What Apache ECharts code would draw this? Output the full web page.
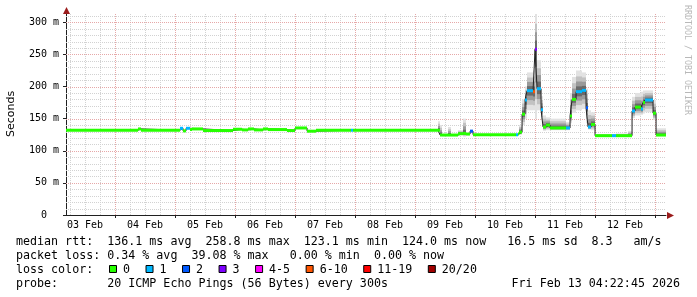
<!DOCTYPE html>
<html><head><meta charset="utf-8">
<script src="https://cdn.jsdelivr.net/npm/echarts@6/dist/echarts.min.js"></script>
<style>html,body{margin:0;padding:0;background:#fff}#c{width:697px;height:297px}</style>
</head><body><div id="c"></div>
<script>
// time in hours since 03 Feb 00:00
const startHour = 4.379;   // Feb 3 04:22:45
const endHour = 244.379;   // Feb 13 04:22:45
const xLabelHours = [12, 36, 60, 84, 108, 132, 156, 180, 204, 228];
const xLabels = ['03 Feb', '04 Feb', '05 Feb', '06 Feb', '07 Feb', '08 Feb', '09 Feb', '10 Feb', '11 Feb', '12 Feb'];
const yTickValues = [0, 50, 100, 150, 200, 250, 300];
const yTickLabels = ['0  ', '50 m', '100 m', '150 m', '200 m', '250 m', '300 m'];
const yMax = 314.5;

// median rtt segments (segment start hour, median ms, loss class, smoke low, smoke high)
const segHours = [4.379, 33.2, 34.4, 50.0, 51.2, 52.4, 54.0, 54.8, 59.2, 71.2, 74.8, 77.2, 79.6, 83.2, 85.2, 92.8, 96.0, 100.8, 104.4, 118.4, 119.2, 153.2,
  154.0, 154.8, 157.2, 158.4, 161.2, 163.2, 164.4, 166.0, 167.2, 184.4, 185.2, 185.6, 186.8, 188.0, 188.8, 191.2, 192.0, 192.8, 194.4, 195.2, 196.4, 198.0,
  204.4, 206.0, 206.8, 208.4, 210.8, 212.4, 213.2, 214.4, 216.0, 222.8, 224.4, 229.2, 230.8, 232.0, 234.4, 235.2, 236.0, 239.2, 240.4];
const medianMs = [132, 134, 132, 135, 131, 135, 133, 134, 131.5, 133.5, 132.5, 134, 132.5, 134, 133, 131.5, 135.5, 130.5, 132, 132, 132, 132,
  124.5, 124.5, 124.5, 124.5, 126.5, 127, 126, 130.5, 125, 125, 126, 129, 157, 179, 193.5, 191.7, 258, 196.6, 164, 137, 140, 135.5,
  135.5, 154, 180, 192, 194, 167, 137, 141, 123.5, 123.5, 123.5, 123.5, 162, 168, 165, 175, 179, 158.5, 124.5];
const lossIdx = [0, 0, 0, 1, 0, 1, 0, 0, 0, 0, 0, 0, 0, 0, 0, 0, 0, 0, 0, 1, 0, 0,
  0, 0, 0, 0, 0, 0, 0, 2, 0, 1, 0, 0, 0, 1, 1, 5, 3, 1, 1, 0, 0, 0,
  1, 0, 0, 1, 1, 2, 1, 0, 0, 1, 0, 0, 1, 0, 1, 0, 1, 0, 0];
const smokeLoMs = [132, 134, 132, 135, 131, 135, 133, 134, 131.5, 133.5, 132.5, 134, 132.5, 134, 133, 131.5, 135.5, 130.5, 132, 132, 132, 131,
  123.5, 123.5, 123.5, 123.5, 125, 122, 125, 127, 124, 124, 125, 125, 140, 150, 163, 163, 150, 163, 148, 131, 132, 132,
  132, 143, 159, 163, 165, 143, 133, 132, 122, 122, 122, 122, 151, 155, 156, 158, 160, 148, 123];
const smokeHiMs = [132, 134, 132, 135, 131, 135, 133, 134, 131.5, 133.5, 132.5, 134, 132.5, 134, 133, 131.5, 135.5, 130.5, 132, 132, 132, 146,
  140, 126, 137, 126, 132, 150, 128, 133, 126, 126, 127, 140, 180, 200, 222, 225, 313, 241, 185, 155, 152, 150,
  145, 190, 215, 225, 222, 197, 163, 160, 126, 126, 127, 131, 184, 190, 192, 194, 194, 179, 135];

const lossLabels = ['0', '1', '2', '3', '4-5', '6-10', '11-19', '20/20'];
const lossColors = ['#26ff00', '#00b8ff', '#0059ff', '#7e00ff', '#ff00ff', '#ff5500', '#ff0000', '#a10000'];
const rttStats = ['136.1', '258.8', '123.1', '124.0', '16.5', '8.3'];
const lossStats = ['0.34', '39.08', '0.00', '0.00'];
const probeText = '20 ICMP Echo Pings (56 Bytes) every 300s';
const dateText = 'Fri Feb 13 04:22:45 2026';

const MONO = "'DejaVu Sans Mono', monospace";
const segEnd = i => (i + 1 < segHours.length ? segHours[i + 1] : endHour);

const smokeData = segHours.map((h, i) => [h, segEnd(i), smokeLoMs[i], medianMs[i], smokeHiMs[i]]);
const barData = segHours.map((h, i) => [h, segEnd(i), medianMs[i], lossIdx[i]]);
const stepData = segHours.map((h, i) => [h, medianMs[i]]).concat([[endHour, medianMs[medianMs.length - 1]]]);

// grid line positions (styling)
const xGrid = []; for (let h = 6; h < endHour; h += 6) xGrid.push([h, 0, h % 24 === 0 ? 1 : 0]);
const yGrid = []; for (let v = 10; v < yMax; v += 10) yGrid.push([startHour, v, v % 50 === 0 ? 1 : 0]);

const MINOR = '#d2d2d2', MAJOR = '#e6a8a8';

const chart = echarts.init(document.getElementById('c'), null, {renderer: 'canvas'});

const graphics = [];
// arrows
graphics.push({type: 'polygon', shape: {points: [[66.5, 7], [63, 14], [70, 14]]}, style: {fill: '#9b1c1c'}, z: 100});
graphics.push({type: 'polygon', shape: {points: [[674, 215.5], [667, 212], [667, 219]]}, style: {fill: '#9b1c1c'}, z: 100});
// watermark
graphics.push({type: 'text', x: 687, y: 5, rotation: -Math.PI / 2,
  style: {text: 'RRDTOOL / TOBI OETIKER', font: "8.3px " + MONO, fill: '#b8b8b8', align: 'left', verticalAlign: 'middle'}});
// legend text lines
const pad = (s, n) => (' '.repeat(n) + s).slice(-n);
const line1 = 'median rtt:  ' + rttStats[0] + ' ms avg  ' + rttStats[1] + ' ms max  ' + rttStats[2] + ' ms min  ' + rttStats[3] + ' ms now  ' + pad(rttStats[4], 5) + ' ms sd  ' + rttStats[5] + '   am/s';
const line2 = 'packet loss: ' + lossStats[0] + ' % avg  ' + lossStats[1] + ' % max  ' + pad(lossStats[2], 5) + ' % min  ' + lossStats[3] + ' % now';
const line4 = 'probe:       ' + probeText;
const FS = 11.66;
const tstyle = (t, x, y, al) => ({type: 'text', x: x, y: y, style: {text: t, font: FS + 'px ' + MONO, fill: '#000', align: al || 'left', verticalAlign: 'middle'}});
graphics.push(tstyle(line1, 16, 241.5));
graphics.push(tstyle(line2, 16, 255.5));
graphics.push(tstyle('loss color:', 16, 269.5));
graphics.push(tstyle(line4, 16, 283.5));
graphics.push(tstyle(dateText, 680, 283.5, 'right'));
let lx = 109;
lossLabels.forEach((lab, i) => {
  graphics.push({type: 'rect', shape: {x: lx + 0.5, y: 265.5, width: 7, height: 7}, style: {fill: lossColors[i], stroke: '#000', lineWidth: 1}});
  graphics.push(tstyle(lab, lx + 14, 269.5));
  lx = lx + 14 + lab.length * 7.02 + 15.5;
});

const option = {
  animation: false,
  backgroundColor: '#fff',
  grid: {left: 66, right: 31, top: 13, bottom: 82, containLabel: false, outerBoundsMode: 'none'},
  xAxis: {
    type: 'value', min: startHour, max: endHour,
    axisLine: {show: true, lineStyle: {color: '#202020', width: 1}},
    axisTick: {show: true, customValues: [24, 48, 72, 96, 120, 144, 168, 192, 216, 240], length: 3, lineStyle: {color: '#202020'}},
    axisLabel: {show: true, customValues: xLabelHours, margin: 5, color: '#000', fontFamily: 'DejaVu Sans Mono', fontSize: 10,
      formatter: v => xLabels[Math.round((v - 12) / 24)] || ''},
    splitLine: {show: false}
  },
  yAxis: {
    type: 'value', min: 0, max: yMax,
    name: 'Seconds', nameLocation: 'middle', nameRotate: 90, nameGap: 49,
    nameTextStyle: {fontFamily: 'DejaVu Sans', fontSize: 11, color: '#000'},
    axisLine: {show: true, lineStyle: {color: '#202020', width: 1}},
    axisTick: {show: true, customValues: yTickValues, length: 3, lineStyle: {color: '#202020'}},
    axisLabel: {show: true, customValues: yTickValues, margin: 7, color: '#000', fontFamily: 'DejaVu Sans Mono', fontSize: 10,
      formatter: v => yTickLabels[yTickValues.indexOf(v)] || ''},
    splitLine: {show: false}
  },
  series: [
    {
      type: 'custom', z: 1, silent: true, data: xGrid, encode: {x: 0, y: 1},
      renderItem: (p, api) => {
        const h = api.value(0);
        const a = api.coord([h, 0]), b = api.coord([h, yMax]);
        const x = Math.round(a[0]) + 0.5;
        return {type: 'line', shape: {x1: x, y1: a[1], x2: x, y2: b[1]},
          style: {stroke: api.value(2) ? MAJOR : MINOR, lineWidth: 1, lineDash: [1, 1]}};
      }
    },
    {
      type: 'custom', z: 1, silent: true, data: yGrid, encode: {x: 0, y: 1},
      renderItem: (p, api) => {
        const v = api.value(1);
        const a = api.coord([startHour, v]), b = api.coord([endHour, v]);
        const y = Math.round(a[1]) + 0.5;
        return {type: 'line', shape: {x1: a[0], y1: y, x2: b[0], y2: y},
          style: {stroke: api.value(2) ? MAJOR : MINOR, lineWidth: 1, lineDash: [1, 1]}};
      }
    },
    {
      type: 'custom', z: 2, silent: true, data: smokeData, encode: {x: [0, 1], y: [2, 3, 4]},
      renderItem: (p, api) => {
        const s = api.value(0), e = api.value(1), lo = api.value(2), med = api.value(3), hi = api.value(4);
        if (hi - lo < 0.01) return null;
        const fr = [1, 0.72, 0.48, 0.25];
        const cols = ['#e2e2e2', '#c2c2c2', '#9a9a9a', '#6a6a6a'];
        const children = [];
        for (let k = 0; k < fr.length; k++) {
          const t = api.coord([s, med + fr[k] * (hi - med)]);
          const b = api.coord([e, med - fr[k] * (med - lo)]);
          const x0 = Math.round(t[0]), x1 = Math.round(b[0]);
          children.push({type: 'rect', shape: {x: x0, y: t[1], width: Math.max(1, x1 - x0), height: b[1] - t[1]}, style: {fill: cols[k]}});
        }
        return {type: 'group', children: children};
      }
    },
    {
      type: 'line', z: 3, silent: true, data: stepData, step: 'end', showSymbol: false, symbol: 'none',
      lineStyle: {color: '#202020', width: 1}
    },
    {
      type: 'custom', z: 4, silent: true, data: barData, encode: {x: [0, 1], y: 2},
      renderItem: (p, api) => {
        const s = api.value(0), e = api.value(1), med = api.value(2), li = api.value(3);
        const a = api.coord([s, med]), b = api.coord([e, med]);
        const x0 = Math.round(a[0]), x1 = Math.round(b[0]);
        return {type: 'rect', shape: {x: x0, y: a[1] - 1.5, width: Math.max(1, x1 - x0), height: 3},
          style: {fill: lossColors[li]}};
      }
    }
  ],
  graphic: graphics
};
chart.setOption(option);
</script>
</body></html>
